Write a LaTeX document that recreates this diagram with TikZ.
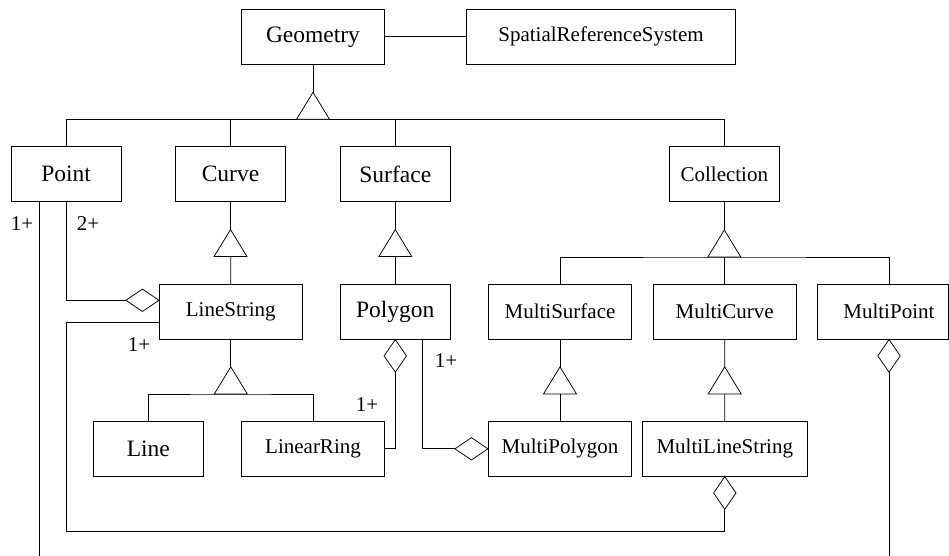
\documentclass[tikz,border=0pt]{standalone}
\usepackage{fontspec}
\setmainfont{Liberation Serif}
\begin{document}
\begin{tikzpicture}[x=1pt,y=-1pt,line width=0.75pt,
  cls/.style={draw,rectangle,inner sep=0pt,minimum height=55pt,font=\fontsize{21}{25}\selectfont},
  big/.style={font=\fontsize{23.5}{28}\selectfont},
  mult/.style={font=\fontsize{21}{25}\selectfont,inner sep=0pt},
  inh/.pic={\draw[fill=white] (0,0) -- (-16.5,27) -- (16.5,27) -- cycle;},
  vdia/.pic={\draw[fill=white] (0,0) -- (11.2,16.3) -- (0,32.6) -- (-11.2,16.3) -- cycle;},
  hdia/.pic={\draw[fill=white] (0,0) -- (-16.5,-11.2) -- (-33,0) -- (-16.5,11.2) -- cycle;}]
\useasboundingbox (0,0) rectangle (949,556);

% classes
\node[cls,big,minimum width=142.6pt] (geo) at (313,36.8) {Geometry};
\node[cls,minimum width=269.7pt] (srs) at (601,36.8) {SpatialReferenceSystem};
\node[cls,big,minimum width=109.7pt] (point) at (66.2,174.3) {Point};
\node[cls,big,minimum width=109.6pt] (curve) at (230.5,174.3) {Curve};
\node[cls,big,minimum width=110pt] (surface) at (395.3,174.3) {Surface};
\node[cls,minimum width=110pt] (coll) at (724.3,174.3) {Collection};
\node[cls,minimum width=143pt] (ls) at (230.8,311.7) {LineString};
\node[cls,big,minimum width=110pt] (poly) at (395.3,311.7) {Polygon};
\node[cls,minimum width=143.4pt] (msurf) at (560,311.7) {MultiSurface};
\node[cls,minimum width=142.7pt] (mcurve) at (724.7,311.7) {MultiCurve};
\node[cls,minimum width=130.3pt] (mpoint) at (882.9,311.7) {\hspace*{12pt}MultiPoint};
\node[cls,big,minimum width=110pt] (line) at (148.3,448.8) {Line};
\node[cls,minimum width=142.6pt] (lring) at (313,448.8) {LinearRing};
\node[cls,minimum width=143.4pt] (mpoly) at (560,448.8) {MultiPolygon};
\node[cls,minimum width=165pt] (mls) at (724.8,448.8) {MultiLineString};

% association
\draw (geo) -- (srs);

% inheritance from Geometry
\coordinate (b1) at (313,119.3);
\draw (geo.south) -- (b1);
\draw (point.north) |- (b1) -| (coll.north);
\draw (curve.north) -- (curve.north |- b1);
\draw (surface.north) -- (surface.north |- b1);
\pic at (313,92.3) {inh};

% Curve -> LineString, Surface -> Polygon
\draw (curve.south) -- (ls.north);
\pic at (230.5,229.6) {inh};
\draw (surface.south) -- (poly.north);
\pic at (395.3,229.6) {inh};

% Collection subclasses
\coordinate (b2) at (724.3,257);
\coordinate (mpx) at (889,556);
\draw (coll.south) -- (b2);
\draw (msurf.north) |- (b2) -| (mpoint.north -| mpx);
\draw (mcurve.north) -- (mcurve.north |- b2);
\pic at (724.3,230) {inh};

% MultiSurface -> MultiPolygon, MultiCurve -> MultiLineString
\draw (msurf.south) -- (mpoly.north);
\pic at (560,366.9) {inh};
\draw (mcurve.south) -- (mls.north);
\pic at (724.7,366.9) {inh};

% LineString -> Line, LinearRing
\coordinate (b3) at (230.8,394);
\draw (ls.south) -- (b3);
\draw (line.north) |- (b3) -| (lring.north);
\pic at (230.8,366.9) {inh};

% aggregations
\draw (point.south) |- ([yshift=11.4pt]ls.west);
\pic at ([yshift=11.4pt]ls.west) {hdia};
\node[mult] (l2) at (88,224) {2+};

\coordinate (pend) at (39.3,556);
\draw (point.south -| pend) -- (pend);
\node[mult] (l1a) at (22,224) {1+};

\coordinate (c1) at (66,531);
\draw ([yshift=-11pt]ls.west) -| (c1) -| (mls.south);
\pic at (mls.south) {vdia};
\node[mult] (l1b) at (139,344.5) {1+};

\draw (poly.south) |- (lring.east);
\pic at (poly.south) {vdia};
\node[mult] (l1c) at (367,404.5) {1+};

\draw ([xshift=27.4pt]poly.south) |- (mpoly.west);
\pic at (mpoly.west) {hdia};
\node[mult] (l1d) at (446,361) {1+};

\draw (mpoint.south -| mpx) -- (mpx);
\pic at (mpoint.south -| mpx) {vdia};
\end{tikzpicture}
\end{document}
